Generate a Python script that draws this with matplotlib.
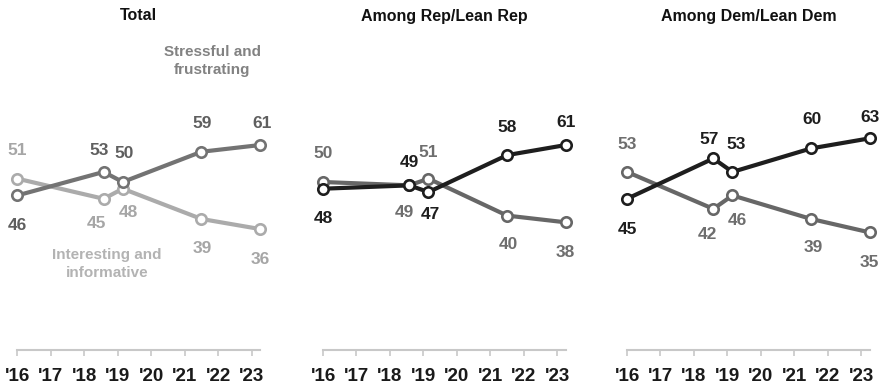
import matplotlib
matplotlib.use("Agg")
import matplotlib.pyplot as plt

plt.rcParams['font.family'] = ['Liberation Sans', 'DejaVu Sans']

# Survey waves (fractional years) and tick labels
survey_years = [2016.0, 2018.58, 2019.15, 2021.5, 2023.25]
tick_years = [2016, 2017, 2018, 2019, 2020, 2021, 2022, 2023]
tick_labels = ["'16", "'17", "'18", "'19", "'20", "'21", "'22", "'23"]

panel_titles = ["Total", "Among Rep/Lean Rep", "Among Dem/Lean Dem"]

# % who say talking politics with people they disagree with is ...
stressful_total = [46, 53, 50, 59, 61]
interesting_total = [51, 45, 48, 39, 36]
stressful_rep = [48, 49, 47, 58, 61]
interesting_rep = [50, 49, 51, 40, 38]
stressful_dem = [45, 57, 53, 60, 63]
interesting_dem = [53, 42, 46, 39, 35]

# label offsets in pixels (dx, dy; positive dy = upward)
stress_offsets = [
    [(0, -30), (-5, 21), (1, 29), (1, 28), (2, 22)],
    [(0, -30), (0, 23), (2, -22), (0, 28), (0, 23)],
    [(0, -31), (-4, 19), (4, 27), (1, 29), (0, 21)],
]
interest_offsets = [
    [(0, 28), (-7, -25), (6, -24), (1, -30), (0, -30)],
    [(0, 28), (-5, -27), (0, 26), (1, -29), (0, -30)],
    [(0, 27), (-6, -26), (5, -25), (2, -29), (0, -30)],
]

stress_colors = ["#737373", "#1e1e1e", "#1e1e1e"]
stress_label_colors = ["#5f5f5f", "#1e1e1e", "#1e1e1e"]
interest_colors = ["#ababab", "#676767", "#676767"]
interest_label_colors = ["#a6a6a6", "#6e6e6e", "#6e6e6e"]

W, H = 884, 390
fig = plt.figure(figsize=(W / 100, H / 100), dpi=100)

axes_left_px = [17.3, 323.0, 627.0]
axes_width_px = 242.7
base_px = 350
height_px = 336

series = [
    (stressful_total, interesting_total),
    (stressful_rep, interesting_rep),
    (stressful_dem, interesting_dem),
]

PT = 0.72  # points per pixel at 100 dpi

for i, (stress, interest) in enumerate(series):
    ax = fig.add_axes([axes_left_px[i] / W, (H - base_px) / H,
                       axes_width_px / W, height_px / H])
    ax.set_xlim(2016, 2023.25)
    ax.set_ylim(0, 100)
    for s in ["top", "left", "right"]:
        ax.spines[s].set_visible(False)
    ax.spines["bottom"].set_color("#c8c8c8")
    ax.spines["bottom"].set_linewidth(1.5)
    ax.set_yticks([])
    ax.set_xticks(tick_years)
    ax.set_xticklabels(tick_labels, fontsize=13.5, fontweight="bold", color="#1a1a1a")
    ax.tick_params(axis="x", direction="out", length=4, width=1.2,
                   color="#c8c8c8", pad=9)
    ax.patch.set_alpha(0)

    for vals, color, lcolor, offs, z in [
        (interest, interest_colors[i], interest_label_colors[i], interest_offsets[i], 3),
        (stress, stress_colors[i], stress_label_colors[i], stress_offsets[i], 4),
    ]:
        ax.plot(survey_years, vals, color=color, lw=3.0, marker="o",
                markersize=7.5, markerfacecolor="white", markeredgecolor=color,
                markeredgewidth=1.9, clip_on=False, zorder=z)
        for x, v, (dx, dy) in zip(survey_years, vals, offs):
            ax.annotate(str(v), (x, v), xytext=(dx * PT, dy * PT),
                        textcoords="offset points", ha="center", va="center",
                        fontsize=12.5, fontweight="bold", color=lcolor,
                        annotation_clip=False, zorder=6)

    cx = (axes_left_px[i] + axes_width_px / 2) / W
    fig.text(cx, 1 - 16 / H, panel_titles[i], ha="center", va="center",
             fontsize=11.5, fontweight="bold", color="#111111")

# series names in the first panel
fig.text(212 / W, 1 - 61 / H, "Stressful and\nfrustrating", ha="center",
         va="center", fontsize=11, fontweight="bold", color="#828282",
         linespacing=1.35)
fig.text(107 / W, 1 - 264 / H, "Interesting and\ninformative", ha="center",
         va="center", fontsize=11, fontweight="bold", color="#b3b3b3",
         linespacing=1.4)

fig.savefig("out.png", dpi=100, facecolor="white")
